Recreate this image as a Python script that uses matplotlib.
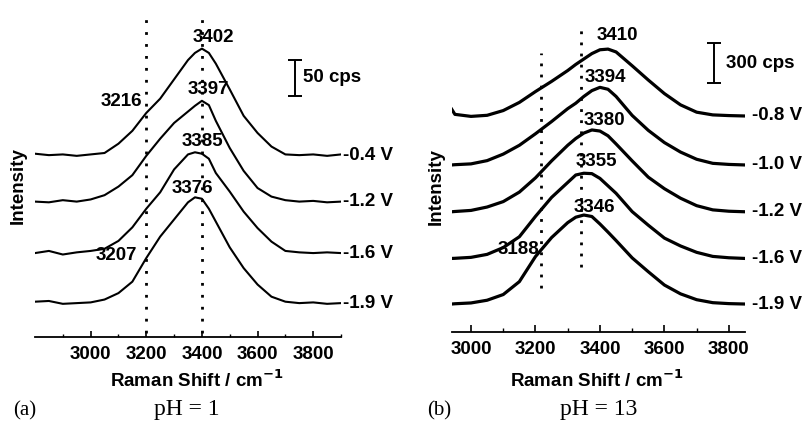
import matplotlib
matplotlib.use("Agg")
import matplotlib.pyplot as plt

# ---- panel (a): pH = 1 ----
shift_a = [2800, 2850, 2900, 2950, 3000, 3050, 3100, 3150, 3200, 3250, 3300, 3350,
           3375, 3400, 3425, 3450, 3500, 3550, 3600, 3650, 3700, 3750, 3800, 3850, 3900]
volts_a = ["-0.4 V", "-1.2 V", "-1.6 V", "-1.9 V"]
offsets_a = [254, 189, 117, 47]
spectra_a = [
    [2, 0, 1, -1, 1, 3, 16, 34, 59, 79, 106, 133, 143, 149, 143, 128, 92, 55, 31, 12, 1, 0, 1, -1, 1],
    [0, -1, 2, 0, 3, 9, 21, 37, 64, 88, 110, 126, 134, 141, 135, 113, 75, 43, 19, 7, 2, 0, 1, -1, 0],
    [0, 3, -2, 1, 3, 6, 17, 36, 62, 85, 117, 138, 141, 139, 132, 112, 86, 58, 35, 16, 3, 1, 0, 1, 0],
    [2, 3, -1, 0, 1, 5, 14, 30, 63, 93, 117, 141, 148, 146, 132, 114, 78, 49, 26, 9, 2, 0, 1, -1, 0],
]
peaks_a = ["3402", "3397", "3385", "3376", "3216", "3207"]
guides_a = [3200, 3400]
major_a = [3000, 3200, 3400, 3600, 3800]
minor_a = [2900, 3100, 3300, 3500, 3700, 3900]

# ---- panel (b): pH = 13 ----
shift_b = [2940, 2950, 3000, 3050, 3100, 3150, 3200, 3250, 3300, 3325, 3350, 3375,
           3400, 3425, 3450, 3500, 3550, 3600, 3650, 3700, 3750, 3800, 3850]
volts_b = ["-0.8 V", "-1.0 V", "-1.2 V", "-1.6 V", "-1.9 V"]
offsets_b = [1590, 1229, 884, 540, 204]
spectra_b = [
    [50, 12, -3, 5, 40, 100, 180, 255, 335, 380, 420, 460, 488, 493, 472, 370, 265, 165, 82, 28, 8, 3, 0],
    [0, 2, 8, 32, 80, 145, 230, 320, 415, 455, 505, 548, 572, 558, 505, 365, 255, 165, 95, 42, 12, 4, 0],
    [0, 2, 10, 35, 75, 145, 250, 375, 490, 540, 580, 603, 595, 560, 500, 375, 255, 170, 100, 45, 14, 4, 0],
    [0, 1, 8, 30, 80, 160, 310, 450, 560, 615, 628, 625, 590, 535, 480, 345, 245, 150, 92, 45, 15, 5, 0],
    [0, 2, 8, 28, 70, 165, 350, 490, 600, 640, 656, 645, 590, 530, 468, 340, 238, 140, 75, 32, 10, 3, 0],
]
peaks_b = ["3410", "3394", "3380", "3355", "3346", "3188"]
guides_b = [3216, 3340]
major_b = [3000, 3200, 3400, 3600, 3800]
minor_b = [3100, 3300, 3500, 3700]

plt.rcParams.update({
    "font.family": ["Liberation Sans", "DejaVu Sans"],
    "font.weight": "bold",
    "font.size": 13.5,
    "axes.labelweight": "bold",
    "axes.labelsize": 13.5,
})

fig = plt.figure(figsize=(8.06, 4.21), dpi=100)
ax_a = fig.add_axes([0.0434, 0.2002, 0.3797, 0.776])
ax_b = fig.add_axes([0.5604, 0.2121, 0.3639, 0.7641])


def style_axis(ax, xlim, ylim, majors, minors, major_len, minor_len):
    ax.set_xlim(*xlim)
    ax.set_ylim(*ylim)
    for side in ("top", "right", "left"):
        ax.spines[side].set_visible(False)
    ax.spines["bottom"].set_linewidth(1.3)
    ax.set_yticks([])
    ax.set_xticks(majors)
    ax.set_xticks(minors, minor=True)
    ax.tick_params(axis="x", which="major", direction="in", length=major_len,
                   width=1.2, pad=7, labelsize=13.5)
    ax.tick_params(axis="x", which="minor", direction="in", length=minor_len, width=1.0)
    ax.set_xlabel("Raman Shift / cm$^{\\mathbf{-1}}$")
    ax.set_ylabel("Intensity")


# panel (a)
style_axis(ax_a, (2800, 3900), (0, 457), major_a, minor_a, 4, 2.5)
for vals, off, lab in zip(spectra_a, offsets_a, volts_a):
    ax_a.plot(shift_a, [v + off for v in vals], color="black", lw=1.5)
    ax_a.text(3908, off, lab, ha="left", va="center")
for gx in guides_a:
    ax_a.plot([gx, gx], [5, 448], color="black", lw=2, linestyle=(0, (1, 3.3)))
pos_a = [(3443, 418), (3425, 346), (3401, 273), (3367, 207), (3110, 329), (3092, 113)]
for txt, (px, py) in zip(peaks_a, pos_a):
    ax_a.text(px, py, txt, ha="center", va="center")
ax_a.errorbar([3735], [362], yerr=[25], fmt="none", ecolor="black",
              elinewidth=1.4, capsize=5, capthick=1.4)
ax_a.text(3763, 363, "50 cps", ha="left", va="center")
ax_a.xaxis.set_label_coords(0.528, -0.099)
ax_a.yaxis.set_label_coords(-0.026, 0.464)

# panel (b)
style_axis(ax_b, (2940, 3850), (0, 2371), major_b, minor_b, 5, 3)
for vals, off, lab in zip(spectra_b, offsets_b, volts_b):
    ax_b.plot(shift_b, [v + off for v in vals], color="black", lw=2.3)
    ax_b.text(3873, off, lab, ha="left", va="center")
ax_b.plot([guides_b[0]] * 2, [320, 2052], color="black", lw=2, linestyle=(0, (1, 3)))
ax_b.plot([guides_b[1]] * 2, [479, 2224], color="black", lw=2, linestyle=(0, (1, 3)))
pos_b = [(3453, 2182), (3418, 1875), (3413, 1560), (3388, 1253), (3382, 919), (3148, 609)]
for txt, (px, py) in zip(peaks_b, pos_b):
    ax_b.text(px, py, txt, ha="center", va="center")
ax_b.errorbar([3754], [1980], yerr=[150], fmt="none", ecolor="black",
              elinewidth=1.4, capsize=5, capthick=1.4)
ax_b.text(3790, 1978, "300 cps", ha="left", va="center")
ax_b.xaxis.set_label_coords(0.494, -0.119)
ax_b.yaxis.set_label_coords(-0.023, 0.451)

# panel captions
serif = ["Liberation Serif", "DejaVu Serif"]
fig.text(25 / 806, 1 - 411 / 421, "(a)", family=serif, weight="normal", fontsize=15,
         ha="center", va="center")
fig.text(187 / 806, 1 - 410 / 421, "pH = 1", family=serif, weight="normal", fontsize=17,
         ha="center", va="center")
fig.text(439 / 806, 1 - 411 / 421, "(b)", family=serif, weight="normal", fontsize=15,
         ha="center", va="center")
fig.text(599 / 806, 1 - 410 / 421, "pH = 13", family=serif, weight="normal", fontsize=17,
         ha="center", va="center")

fig.savefig("out.png", dpi=100)
